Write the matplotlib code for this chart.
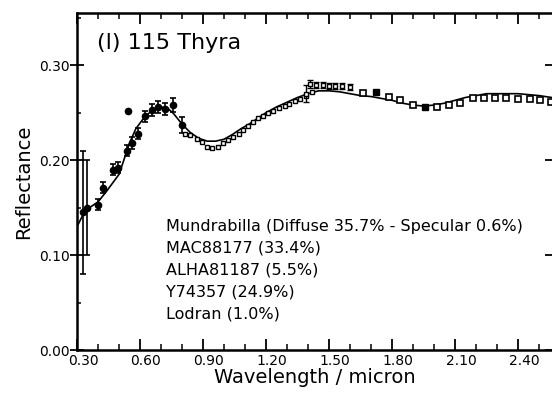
from matplotlib import pyplot as plt
from matplotlib.ticker import MultipleLocator, FixedLocator
import matplotlib.transforms as mtransforms

import numpy as np

plt.rcParams["font.family"] = ["DejaVu Sans"]

# model fit (solid line)
model_wl = [0.30, 0.33, 0.36, 0.40, 0.44, 0.48, 0.50, 0.52, 0.55, 0.58, 0.61,
            0.64, 0.67, 0.70, 0.73, 0.76, 0.80, 0.84, 0.88, 0.92, 0.96, 1.00,
            1.04, 1.08, 1.12, 1.16, 1.20, 1.25, 1.30, 1.35, 1.40, 1.45, 1.50,
            1.55, 1.60, 1.65, 1.70, 1.75, 1.80, 1.85, 1.90, 1.95, 2.00, 2.05,
            2.10, 2.15, 2.20, 2.25, 2.30, 2.35, 2.40, 2.45, 2.50, 2.56]
model_refl = [0.130, 0.143, 0.150, 0.156, 0.167, 0.179, 0.185, 0.198, 0.218,
              0.233, 0.242, 0.249, 0.254, 0.256, 0.255, 0.249, 0.238, 0.229,
              0.223, 0.220, 0.220, 0.222, 0.227, 0.233, 0.238, 0.244, 0.250,
              0.256, 0.261, 0.266, 0.270, 0.273, 0.273, 0.272, 0.270, 0.268,
              0.267, 0.265, 0.263, 0.260, 0.258, 0.257, 0.258, 0.260, 0.263,
              0.266, 0.268, 0.270, 0.270, 0.270, 0.270, 0.269, 0.268, 0.266]

# filled circles with error bars (visible range)
vis_wl = [0.33, 0.35, 0.40, 0.425, 0.47, 0.495, 0.54, 0.56, 0.59, 0.625,
          0.655, 0.685, 0.72, 0.755, 0.80]
vis_refl = [0.145, 0.150, 0.153, 0.171, 0.190, 0.192, 0.210, 0.218, 0.228,
            0.246, 0.253, 0.256, 0.254, 0.258, 0.237]
vis_err = [0.065, 0.050, 0.006, 0.006, 0.006, 0.006, 0.006, 0.006, 0.006,
           0.006, 0.006, 0.006, 0.006, 0.007, 0.008]
odd_wl = [0.545]
odd_refl = [0.252]

# small open squares (near-IR)
nir_wl = [0.815, 0.84, 0.87, 0.895, 0.92, 0.945, 0.97, 0.995, 1.02, 1.045,
          1.07, 1.09, 1.115, 1.14, 1.16, 1.185, 1.21, 1.235, 1.26, 1.29,
          1.31, 1.34, 1.36, 1.39, 1.42]
nir_refl = [0.228, 0.226, 0.222, 0.219, 0.214, 0.213, 0.214, 0.218, 0.221,
            0.224, 0.228, 0.232, 0.236, 0.240, 0.244, 0.247, 0.250, 0.252,
            0.255, 0.257, 0.259, 0.262, 0.264, 0.268, 0.272]

# cluster with error bars
clu_wl = [1.39, 1.41, 1.44, 1.47, 1.50, 1.53, 1.56, 1.60]
clu_refl = [0.270, 0.280, 0.279, 0.279, 0.278, 0.278, 0.278, 0.277]
clu_err = [0.009, 0.004, 0.003, 0.003, 0.003, 0.003, 0.003, 0.003]

# large squares (long wavelength)
ir_wl = [1.66, 1.785, 1.838, 1.90, 2.015, 2.07, 2.125, 2.185, 2.24, 2.29,
         2.345, 2.40, 2.455, 2.505, 2.555]
ir_refl = [0.271, 0.266, 0.263, 0.258, 0.256, 0.258, 0.260, 0.265, 0.265,
           0.265, 0.265, 0.264, 0.264, 0.263, 0.261]
ir_fill_wl = [1.724, 1.957]
ir_fill_refl = [0.272, 0.256]

x_ticks = [0.30, 0.60, 0.90, 1.20, 1.50, 1.80, 2.10, 2.40]
x_labels = ["0.30", "0.60", "0.90", "1.20", "1.50", "1.80", "2.10", "2.40"]
y_ticks = [0.00, 0.10, 0.20, 0.30]
y_labels = ["0.00", "0.10", "0.20", "0.30"]

mix_lines = ["Mundrabilla (Diffuse 35.7% - Specular 0.6%)",
             "MAC88177 (33.4%)",
             "ALHA81187 (5.5%)",
             "Y74357 (24.9%)",
             "Lodran (1.0%)"]

fig = plt.figure(figsize=(5.52, 3.96), dpi=100)
ax = fig.add_axes([77 / 552, 46 / 396, 475 / 552, 337 / 396])

ax.plot(model_wl, model_refl, "-", color="black", lw=1.2, zorder=2)
ax.errorbar(vis_wl, vis_refl, yerr=vis_err, fmt="o", color="black",
            ms=4.5, elinewidth=1.2, capsize=2.5, capthick=1.2, zorder=3)
ax.plot(odd_wl, odd_refl, "o", color="black", ms=4.5, zorder=3)
ax.plot(nir_wl, nir_refl, "s", mfc="white", mec="black", mew=1.0, ms=3.5,
        ls="none", zorder=3)
ax.errorbar(clu_wl, clu_refl, yerr=clu_err, fmt="s", mfc="white", mec="black",
            color="black", mew=1.0, ms=3.5, elinewidth=1.0, capsize=2.5,
            zorder=3)
ax.plot(ir_wl, ir_refl, "s", mfc="white", mec="black", mew=1.2, ms=5,
        ls="none", zorder=3)
ax.plot(ir_fill_wl, ir_fill_refl, "s", color="black", ms=5, ls="none",
        zorder=3)

ax.set_xlim(0.30, 2.562)
ax.set_ylim(0.0, 0.355)

ax.xaxis.set_major_locator(FixedLocator(x_ticks))
ax.set_xticklabels(x_labels)
ax.xaxis.set_minor_locator(MultipleLocator(0.1))
ax.yaxis.set_major_locator(FixedLocator(y_ticks))
ax.set_yticklabels(y_labels)
ax.yaxis.set_minor_locator(MultipleLocator(0.05))

ax.tick_params(axis="x", which="major", direction="in", length=8, width=1.3,
               top=True, labelsize=10, pad=3)
ax.tick_params(axis="x", which="minor", direction="in", length=4, width=1.1,
               top=True)
ax.tick_params(axis="y", which="major", direction="inout", length=10,
               width=1.3, labelsize=10, pad=0)
ax.tick_params(axis="y", which="minor", direction="in", length=3, width=1.1)
ax.tick_params(axis="y", which="major", right=True)

# labels sit a little right of their ticks
shift = mtransforms.ScaledTranslation(6 / 100, 0, fig.dpi_scale_trans)
for lab in ax.get_xticklabels():
    lab.set_transform(lab.get_transform() + shift)

for side in ["left", "bottom", "top"]:
    ax.spines[side].set_linewidth(1.8)
ax.spines["right"].set_visible(False)

ax.set_xlabel("Wavelength / micron", fontsize=14, labelpad=0)
ax.set_ylabel("Reflectance", fontsize=14)
ax.yaxis.set_label_coords(-0.093, 0.5)

ax.text(0.042, 0.91, "(l) 115 Thyra", transform=ax.transAxes, fontsize=16,
        va="center", ha="left")
for i, line in enumerate(mix_lines):
    ax.text(0.187, (350 - 226 - 22 * i) / 337, line, transform=ax.transAxes,
            fontsize=11.5, va="center", ha="left")

plt.savefig("out.png", dpi=100)
plt.close()
